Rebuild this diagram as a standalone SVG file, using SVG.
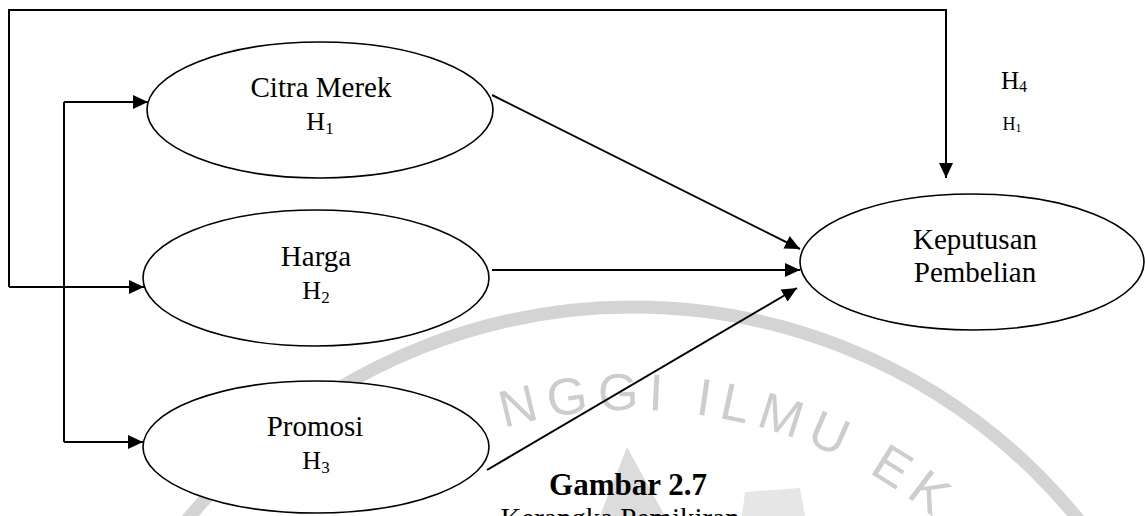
<svg xmlns="http://www.w3.org/2000/svg" width="1145" height="516" viewBox="0 0 1145 516">
<defs>
<style>
.wm{fill:none;stroke:#d4d4d4;stroke-width:13}
.wmt{fill:#cdcdcd;font-family:"Liberation Sans",Arial,sans-serif;font-size:52px}
.node ellipse{fill:#fff;stroke:#000;stroke-width:1.6}
.lbl{font-family:"Liberation Serif","Times New Roman",serif;font-size:29px;fill:#000;text-anchor:middle}
.conn path{fill:none;stroke:#000;stroke-width:2}
.sub{font-size:17px}
</style>
<marker id="ah" markerUnits="userSpaceOnUse" markerWidth="16" markerHeight="14" refX="15" refY="7" orient="auto">
<path d="M0,0 L15,7 L0,14 z" fill="#000"/>
</marker>
<path id="wmpath" d="M 504 428 A 472 472 0 0 1 950 532"/>
</defs>
<rect width="1145" height="516" fill="#fff"/>
<g id="watermark">
<circle class="wm" cx="633" cy="880" r="573"/>
<path d="M627 447 L600 516 L665 516 Z" fill="#dcdcdc"/>
<path d="M745 492 L800 488 L805 516 L742 516 Z" fill="#e6e6e6"/>
<text class="wmt"><textPath href="#wmpath" textLength="455" lengthAdjust="spacing">NGGI ILMU EK</textPath></text>
</g>
<g id="connectors" class="conn">
<path d="M 9 287 V 10 H 946 V 178" marker-end="url(#ah)"/>
<path d="M 9 287 H 144" marker-end="url(#ah)"/>
<path d="M 64 102 V 442"/>
<path d="M 64 102 H 148" marker-end="url(#ah)"/>
<path d="M 64 442 H 143" marker-end="url(#ah)"/>
<path d="M 492 95 L 800 249" marker-end="url(#ah)"/>
<path d="M 492 270 L 800 270" marker-end="url(#ah)"/>
<path d="M 487 470 L 797 288" marker-end="url(#ah)"/>
</g>
<g id="citra" class="node">
<ellipse cx="320" cy="110" rx="173" ry="68"/>
<text class="lbl" x="321" y="97">Citra Merek</text>
<text class="lbl" x="320" y="130" style="font-size:26px">H<tspan class="sub" dy="4">1</tspan></text>
</g>
<g id="harga" class="node">
<ellipse cx="316" cy="278" rx="173" ry="68"/>
<text class="lbl" x="316" y="266">Harga</text>
<text class="lbl" x="316" y="299" style="font-size:26px">H<tspan class="sub" dy="4">2</tspan></text>
</g>
<g id="promosi" class="node">
<ellipse cx="316" cy="447" rx="173" ry="66"/>
<text class="lbl" x="315" y="436">Promosi</text>
<text class="lbl" x="316" y="469" style="font-size:26px">H<tspan class="sub" dy="4">3</tspan></text>
</g>
<g id="keputusan" class="node">
<ellipse cx="972" cy="262" rx="172" ry="68"/>
<text class="lbl" x="975" y="249">Keputusan</text>
<text class="lbl" x="975" y="282">Pembelian</text>
</g>
<g id="labels">
<text class="lbl" x="1014" y="89" style="font-size:25px">H<tspan style="font-size:16px" dy="3">4</tspan></text>
<text class="lbl" x="1012" y="130" style="font-size:18px">H<tspan style="font-size:12px" dy="2">1</tspan></text>
<text class="lbl" x="628" y="495" style="font-weight:bold;font-size:31px">Gambar 2.7</text>
<text class="lbl" x="620" y="528">Kerangka Pemikiran</text>
</g>
</svg>
